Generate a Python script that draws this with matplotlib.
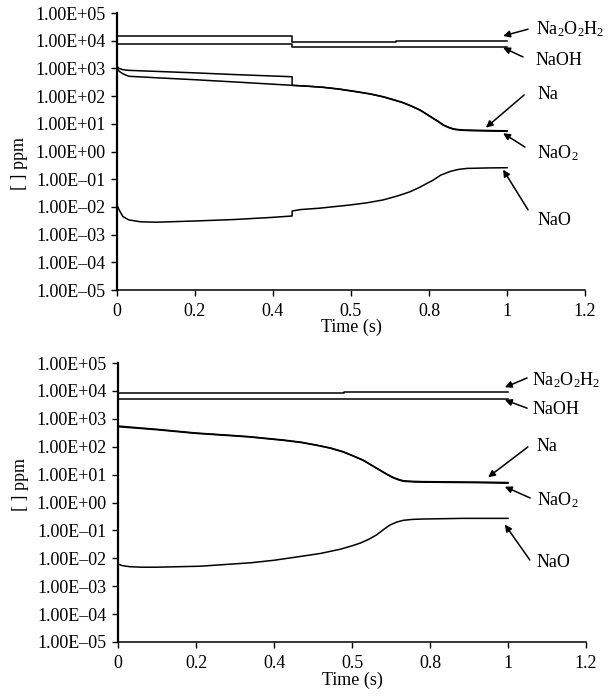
import matplotlib
matplotlib.use("Agg")
import matplotlib.pyplot as plt
import numpy as np

plt.rcParams['font.family'] = ['Liberation Serif', 'DejaVu Serif']
plt.rcParams['mathtext.fontset'] = 'custom'
plt.rcParams['mathtext.rm'] = 'Liberation Serif'
plt.rcParams['mathtext.it'] = 'Liberation Serif:italic'

# ---- upper case: species concentration (ppm) vs time (s)
t_a_dimer = [0, 0.449, 0.449, 0.715, 0.715, 1.0]
a_dimer = [1.5e4, 1.5e4, 9.1e3, 9.1e3, 9.6e3, 9.6e3]
t_a_naoh = [0, 0.449, 0.449, 1.0]
a_naoh = [7.4e3, 7.4e3, 5.9e3, 5.9e3]
t_a_na = [0, 0.005, 0.015, 0.03, 0.1, 0.2, 0.3, 0.449, 0.449, 0.49, 0.529, 0.57,
          0.615, 0.65, 0.683, 0.71, 0.734, 0.755, 0.777, 0.795, 0.811, 0.825,
          0.837, 0.85, 0.862, 0.875, 0.888, 0.92, 0.96, 1.0]
a_na = [1200, 1000, 900, 850, 780, 690, 600, 500, 245, 228, 209, 180,
        145, 120, 95, 74, 58, 44, 31.6, 22, 15.8, 12,
        9.1, 7.6, 6.6, 6.2, 6.0, 5.85, 5.7, 5.6]
t_a_nao2 = [0, 0.005, 0.015, 0.03, 0.1, 0.2, 0.3, 0.449, 0.49, 0.529, 0.57,
            0.615, 0.65, 0.683, 0.71, 0.734, 0.755, 0.777, 0.795, 0.811, 0.825,
            0.837, 0.85, 0.862, 0.875, 0.888, 0.92, 0.96, 1.0]
a_nao2 = [1000, 800, 640, 520, 460, 390, 325, 245, 226, 206, 177,
          142, 118, 93, 72, 57, 43, 31, 21.5, 15.4, 11.6,
          8.8, 7.3, 6.4, 6.0, 5.8, 5.6, 5.45, 5.35]
t_a_nao = [0, 0.005, 0.015, 0.03, 0.06, 0.1, 0.2, 0.3, 0.4, 0.449, 0.449, 0.47,
           0.52, 0.597, 0.64, 0.682, 0.72, 0.751, 0.775, 0.795, 0.811, 0.83,
           0.854, 0.875, 0.897, 0.95, 1.0]
a_nao = [0.0118, 0.008, 0.0045, 0.0034, 0.0029, 0.0028, 0.0031, 0.0035, 0.0042, 0.0047,
         0.0071, 0.0080, 0.0090, 0.0117, 0.014, 0.0178, 0.025, 0.035, 0.050, 0.071,
         0.093, 0.14, 0.19, 0.225, 0.245, 0.255, 0.26]

# ---- lower case
t_b_dimer = [0, 0.58, 0.58, 1.0]
b_dimer = [8.7e3, 8.7e3, 9.0e3, 9.0e3]
t_b_naoh = [0, 1.0]
b_naoh = [5.3e3, 5.3e3]
t_b_na = [0, 0.05, 0.1, 0.2, 0.3, 0.338, 0.38, 0.424, 0.47, 0.509, 0.545, 0.578,
          0.605, 0.629, 0.65, 0.672, 0.69, 0.706, 0.72, 0.732, 0.76, 0.783,
          0.85, 0.92, 1.0]
b_na = [550, 480, 420, 310, 250, 229, 200, 174, 145, 115, 90, 66,
        46, 33, 22, 14.5, 10.3, 7.9, 6.7, 6.0, 5.7, 5.6,
        5.5, 5.4, 5.2]
t_b_nao2 = t_b_na
b_nao2 = [520, 460, 405, 300, 242, 222, 194, 169, 141, 112, 88, 64,
          45, 32, 21.5, 14.1, 10.0, 7.6, 6.4, 5.75, 5.45, 5.35,
          5.25, 5.15, 4.9]
t_b_nao = [0, 0.01, 0.03, 0.06, 0.1, 0.21, 0.34, 0.4, 0.465, 0.52, 0.569, 0.6,
           0.621, 0.643, 0.663, 0.68, 0.697, 0.715, 0.732, 0.755, 0.783, 0.885, 1.0]
b_nao = [0.0063, 0.0055, 0.0050, 0.0048, 0.0048, 0.0052, 0.0069, 0.0085, 0.0115,
         0.015, 0.021, 0.028, 0.035, 0.048, 0.069, 0.105, 0.155, 0.20, 0.23,
         0.248, 0.256, 0.27, 0.27]

x_ticks = [0, 0.2, 0.4, 0.6, 0.8, 1.0, 1.2]
x_labels = ["0", "0.2", "0.4", "0.5", "0.8", "1", "1.2"]
decades = list(range(-5, 6))
y_labels = ["1.00E+%02d" % k if k >= 0 else "1.00E\u2013%02d" % -k for k in decades]

species = [r"Na$_2$O$_2$H$_2$", "NaOH", "Na", r"NaO$_2$", "NaO"]

FS = 13


def setup(ax, ylab_y):
    ax.set_yscale('log')
    ax.set_xlim(0, 1.2)
    ax.set_ylim(1e-5, 1e5)
    ax.set_yticks([10.0 ** k for k in decades])
    ax.set_yticklabels(y_labels)
    ax.minorticks_off()
    ax.set_xticks(x_ticks)
    ax.set_xticklabels(x_labels)
    for s in ['top', 'right']:
        ax.spines[s].set_visible(False)
    ax.spines['left'].set_linewidth(1.6)
    ax.spines['bottom'].set_linewidth(1.1)
    ax.tick_params(axis='both', direction='out', length=4, width=1, labelsize=FS)
    ax.tick_params(axis='y', pad=4)
    ax.tick_params(axis='x', pad=5)
    ax.set_xlabel("Time (s)", fontsize=FS)
    ax.set_ylabel("[ ] ppm", fontsize=FS)
    ax.xaxis.set_label_coords(0.5, -0.105)
    ax.yaxis.set_label_coords(-0.19, ylab_y)


def label(ax, text, tip, tail, txt):
    ax.annotate("", xy=tip, xytext=tail, annotation_clip=False,
                arrowprops=dict(arrowstyle='-|>', color='black', lw=1.1,
                                mutation_scale=10, shrinkA=0, shrinkB=0))
    ax.text(txt[0], txt[1], text, fontsize=FS, ha='left', va='center', clip_on=False)


fig = plt.figure(figsize=(6.08, 6.96), dpi=100)
ax1 = fig.add_axes([117 / 608, 1 - 290 / 696, 468 / 608, 277 / 696])
ax2 = fig.add_axes([118 / 608, 1 - 642 / 696, 468 / 608, 279 / 696])

for t, v in [(t_a_dimer, a_dimer), (t_a_naoh, a_naoh), (t_a_na, a_na),
             (t_a_nao2, a_nao2), (t_a_nao, a_nao)]:
    ax1.plot(t, v, color='black', lw=1.1)
for t, v in [(t_b_dimer, b_dimer), (t_b_naoh, b_naoh), (t_b_na, b_na),
             (t_b_nao2, b_nao2), (t_b_nao, b_nao)]:
    ax2.plot(t, v, color='black', lw=1.1)

setup(ax1, 0.455)
setup(ax2, 0.563)

# labels with arrows, upper
label(ax1, species[0], (0.99, a_dimer[-1] * 1.55), (1.054, 2.6e4), (1.074, 2.6e4))
label(ax1, species[1], (0.99, a_naoh[-1] * 0.95), (1.041, 2.6e3), (1.074, 2.0e3))
label(ax1, species[2], (0.946, a_na[-1] * 1.3), (1.044, 110), (1.077, 110))
label(ax1, species[3], (0.99, a_nao2[-1] * 0.85), (1.046, 1.45), (1.077, 0.88))
label(ax1, species[4], (0.99, a_nao[-1] * 0.85), (1.054, 0.0078), (1.077, 0.0031))

# labels with arrows, lower
label(ax2, species[0], (0.992, b_dimer[-1] * 1.5), (1.049, 2.9e4), (1.062, 2.45e4))
label(ax2, species[1], (0.992, b_naoh[-1] * 0.9), (1.049, 2.4e3), (1.062, 2.1e3))
label(ax2, species[2], (0.949, b_na[-1] * 1.55), (1.051, 98), (1.074, 98))
label(ax2, species[3], (0.992, b_nao2[-1] * 0.75), (1.057, 1.45), (1.074, 1.23))
label(ax2, species[4], (0.992, b_nao[-1] * 0.6), (1.056, 0.0087), (1.074, 0.0068))

fig.savefig("out.png", dpi=100)
